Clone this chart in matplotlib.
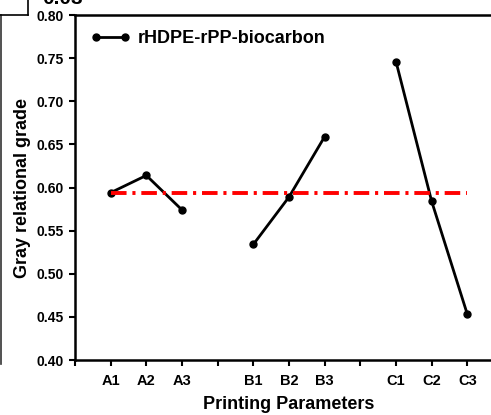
import numpy as np
import matplotlib
matplotlib.use("Agg")
import matplotlib.pyplot as plt
from matplotlib.lines import Line2D

plt.rcParams["font.family"] = ["Liberation Sans", "DejaVu Sans"]
plt.rcParams["font.weight"] = "bold"

# data
groups = ["A", "B", "C"]
levels = ["1", "2", "3"]
grade_a = [0.594, 0.614, 0.574]
grade_b = [0.534, 0.589, 0.659]
grade_c = [0.746, 0.584, 0.453]
mean_grade = 0.594
series_label = "rHDPE-rPP-biocarbon"

fig = plt.figure(figsize=(4.91, 4.15), dpi=100)
W, H = 491, 415
ax = fig.add_axes([75 / W, 55 / H, 428 / W, 345 / H])

# group positions: 3 levels per group, one empty slot between groups
tick_pos = [0]
tick_lab = [""]
pos = 0
for gi, (g, vals) in enumerate(zip(groups, [grade_a, grade_b, grade_c])):
    xs = [pos + 1 + i for i in range(len(levels))]
    ax.plot(xs, vals, color="black", lw=2, marker="o", ms=5,
            label=series_label if gi == 0 else None)
    tick_pos += xs
    tick_lab += [g + l for l in levels]
    pos = xs[-1] + 1
    if gi < len(groups) - 1:
        tick_pos.append(pos)
        tick_lab.append("")

first = 1
last = tick_pos[-1]
ax.plot([first, last], [mean_grade, mean_grade], color="red", lw=2.8,
        dashes=(4, 1.5, 0.8, 1.5))

ax.set_xlim(0, 12)
ax.set_ylim(0.40, 0.80)
ax.set_xticks(tick_pos)
ax.set_xticklabels(tick_lab, fontsize=10.5, fontweight="bold")
ax.set_yticks(np.arange(0.40, 0.801, 0.05))
ax.set_yticklabels([f"{v:.2f}" for v in np.arange(0.40, 0.801, 0.05)],
                   fontsize=10, fontweight="bold")
ax.tick_params(direction="out", length=4, width=1.5, pad=4)
ax.tick_params(axis="x", pad=6)
for s in ax.spines.values():
    s.set_linewidth(1.8)

ax.set_xlabel("Printing Parameters", fontsize=13, fontweight="bold", labelpad=6)
ax.set_ylabel("Gray relational grade", fontsize=13, fontweight="bold", labelpad=4)

ax.legend(loc="upper left", frameon=False, numpoints=2,
          handlelength=2.2, handletextpad=0.45, borderaxespad=0.45,
          prop={"weight": "bold", "size": 13})

# cropping leftovers from the surrounding figure
fig.add_artist(Line2D([1 / W, 1 / W], [1 - 15 / H, 1 - 364 / H], color="#333333", lw=1.2))
fig.add_artist(Line2D([0, 28 / W], [1 - 15 / H, 1 - 15 / H], color="black", lw=1.2))
fig.add_artist(Line2D([28 / W, 28 / W], [1, 1 - 15 / H], color="black", lw=1.2))
fig.text(62 / W, 1 - 4 / H, "0.03", fontsize=15, fontweight="bold",
         ha="center", va="baseline")

fig.savefig("out.png", dpi=100)
